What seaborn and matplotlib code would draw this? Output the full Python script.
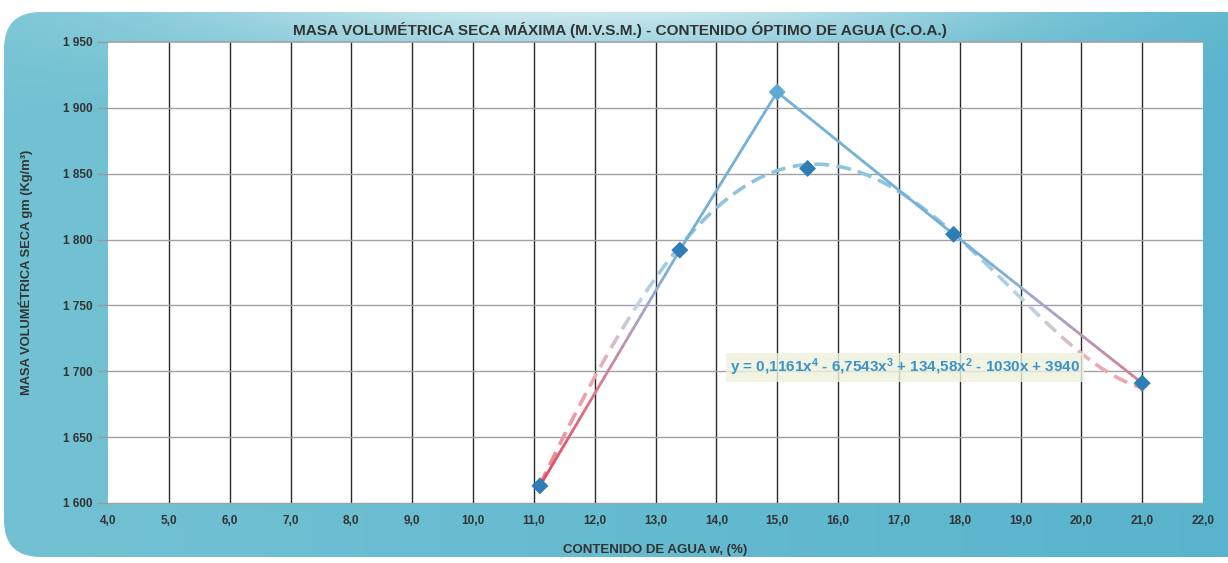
import numpy as np
import matplotlib
matplotlib.use("Agg")
import matplotlib.pyplot as plt
import seaborn as sns
import pandas as pd
from matplotlib.collections import LineCollection
from matplotlib.colors import LinearSegmentedColormap
from matplotlib.patches import FancyBboxPatch
from matplotlib.ticker import FuncFormatter, MultipleLocator

# ---------------- data ----------------
water_content = [11.1, 13.4, 15.0, 17.9, 21.0]          # w (%)
dry_density = [1613, 1792, 1912, 1804, 1691]            # kg/m3
optimum_w = [15.5]
optimum_density = [1854]
trend_coefs = [0.1161, -6.7543, 134.58, -1030.0, 3940.0]  # shown equation (x^4 .. x^0)
trend_range = [11.1, 21.0]
equation_label = "y = 0,1161x$^{4}$ - 6,7543x$^{3}$ + 134,58x$^{2}$ - 1030x + 3940"
title = "MASA VOLUMÉTRICA SECA MÁXIMA (M.V.S.M.) - CONTENIDO ÓPTIMO DE AGUA (C.O.A.)"
xlabel = "CONTENIDO DE AGUA w, (%)"
ylabel = "MASA VOLUMÉTRICA SECA gm (Kg/m³)"

sns.set_theme(style="white")
plt.rcParams["font.family"] = ["Liberation Sans", "DejaVu Sans"]
plt.rcParams["mathtext.fontset"] = "custom"
plt.rcParams["mathtext.rm"] = "Liberation Sans:bold"
plt.rcParams["mathtext.it"] = "Liberation Sans:bold"
plt.rcParams["mathtext.bf"] = "Liberation Sans:bold"

W, H = 1228, 563
fig = plt.figure(figsize=(W / 100, H / 100), dpi=100)
fig.patch.set_facecolor("white")

# ---- background card with gradient ----
bg = fig.add_axes([0, 0, 1, 1], zorder=-5)
bg.set_xlim(0, 1)
bg.set_ylim(0, 1)
bg.axis("off")
nx, ny = 400, 200
gx = np.linspace(0, 1, nx)[None, :]
gy = np.linspace(0, 1, ny)[:, None]  # 0 bottom -> 1 top (origin lower)
base_l = np.array([115, 194, 211]) / 255
base_r = np.array([88, 180, 204]) / 255
base = base_l[None, None, :] * (1 - gx[..., None]) + base_r[None, None, :] * gx[..., None]
base = np.broadcast_to(base, (ny, nx, 3)).copy()
hl = np.exp(-((gx - 0.48) ** 2) / (2 * 0.24 ** 2)) * np.clip((gy - 0.80) / 0.20, 0, 1) ** 1.3
hl = hl[..., None] * 0.85
img = base * (1 - hl) + np.array([0.93, 0.97, 0.97]) * hl
im = bg.imshow(img, extent=[0, 1, 0, 1], origin="lower", aspect="auto", zorder=0)
card = FancyBboxPatch((4 / W, 6 / H), (W + 30) / W, (H - 18) / H,
                      boxstyle="round,pad=0,rounding_size=0.03",
                      transform=bg.transAxes, facecolor="none", edgecolor="none",
                      mutation_aspect=W / H)
bg.add_patch(card)
im.set_clip_path(card)

# ---- main axes ----
ax = fig.add_axes([108 / W, 1 - 503 / H, (1203 - 108) / W, (503 - 42) / H])
ax.set_facecolor("white")
ax.set_xlim(4, 22)
ax.set_ylim(1600, 1950)
ax.xaxis.set_major_locator(MultipleLocator(1))
ax.yaxis.set_major_locator(MultipleLocator(50))
ax.xaxis.set_major_formatter(FuncFormatter(lambda v, p: f"{v:.1f}".replace(".", ",")))
ax.yaxis.set_major_formatter(FuncFormatter(lambda v, p: f"{int(round(v)):,}".replace(",", " ")))
for s in ax.spines.values():
    s.set_visible(False)
ax.grid(False)
for xv in np.arange(5, 22, 1):
    ax.axvline(xv, color="#2a2a2a", lw=1.0, zorder=1)
for yv in np.arange(1650, 1950, 50):
    ax.axhline(yv, color="#a3a0a8", lw=1.0, zorder=1)
ax.axhline(1950, color="#a3a0a8", lw=1.2, zorder=1, clip_on=False)
ax.axhline(1600, color="#a3a0a8", lw=1.0, zorder=1, clip_on=False)

ax.tick_params(axis="y", which="major", length=8, width=1, color="#9a9a9a",
               labelsize=8.5, labelcolor="#333333", pad=3, left=True)
ax.tick_params(axis="x", which="major", length=0, labelsize=8.5, labelcolor="#333333", pad=9)
for lab in ax.get_xticklabels() + ax.get_yticklabels():
    lab.set_fontweight("bold")

norm = plt.Normalize(1610, 1830)

# solid data line: gradient red (low) -> blue (high)
cmap = LinearSegmentedColormap.from_list(
    "rb", [(0.0, "#e0465e"), (0.35, "#dc7a8c"), (0.62, "#a6a6cc"), (0.80, "#78b2d6"), (1.0, "#76b2d6")])
px, py = [], []
for i in range(len(water_content) - 1):
    t = np.linspace(0, 1, 40)
    px.extend(water_content[i] + (water_content[i + 1] - water_content[i]) * t)
    py.extend(dry_density[i] + (dry_density[i + 1] - dry_density[i]) * t)
px, py = np.array(px), np.array(py)
pts = np.column_stack([px, py]).reshape(-1, 1, 2)
segs = np.concatenate([pts[:-1], pts[1:]], axis=1)
mid = (py[:-1] + py[1:]) / 2
ax.add_collection(LineCollection(segs, colors=cmap(norm(mid)), linewidths=2.0,
                                 capstyle="round", zorder=4))

# trend curve from displayed equation, dashed with gradient colour
dash_cmap = LinearSegmentedColormap.from_list(
    "rb2", [(0.0, "#ec8494"), (0.4, "#f0a6b2"), (0.65, "#bcd6e4"), (0.85, "#8ec4dc"), (1.0, "#8ec4dc")])
tx = np.linspace(trend_range[0], trend_range[1], 2000)
ty = np.polyval(trend_coefs, tx)
disp = ax.transData.transform(np.column_stack([tx, ty]))
arc = np.concatenate([[0], np.cumsum(np.hypot(np.diff(disp[:, 0]), np.diff(disp[:, 1])))])
dash_len, gap_len = 15.0, 7.0
start = 0.0
dash_segs, dash_cols = [], []
while start < arc[-1]:
    end = min(start + dash_len, arc[-1])
    sel = (arc >= start) & (arc <= end)
    if sel.sum() >= 2:
        dash_segs.append(np.column_stack([tx[sel], ty[sel]]))
        dash_cols.append(dash_cmap(norm(ty[sel].mean())))
    start += dash_len + gap_len
ax.add_collection(LineCollection(dash_segs, colors=dash_cols, linewidths=2.6,
                                 capstyle="butt", zorder=3))

df = pd.DataFrame({"w": water_content, "d": dry_density})
marker_colors = ["#2f7db5", "#2f7db5", "#5fa9d6", "#2f7db5", "#2f7db5"]
sns.scatterplot(data=df, x="w", y="d", ax=ax, marker="D", s=75, color="#2f7db5",
                edgecolor="none", zorder=5, legend=False)
ax.collections[-1].set_facecolor(marker_colors)
dfo = pd.DataFrame({"w": optimum_w, "d": optimum_density})
sns.scatterplot(data=dfo, x="w", y="d", ax=ax, marker="D", s=75, color="#2f7db5",
                edgecolor="none", zorder=5, legend=False)

ax.text(14.22, 1703, equation_label, color="#3a93c9", fontsize=11, fontweight="bold",
        va="center", ha="left", zorder=6,
        bbox=dict(boxstyle="square,pad=0.25", facecolor="#eef2dc", edgecolor="none", alpha=0.8))

ax.set_xlabel(xlabel, fontsize=9.5, fontweight="bold", color="#333333", labelpad=12)
ax.set_ylabel(ylabel, fontsize=9.3, fontweight="bold", color="#333333", labelpad=22)
fig.text(620 / W, 1 - 30 / H, title, ha="center", va="center", fontsize=11.1,
         fontweight="bold", color="#333333")

fig.savefig("out.png", dpi=100, facecolor=fig.get_facecolor())
